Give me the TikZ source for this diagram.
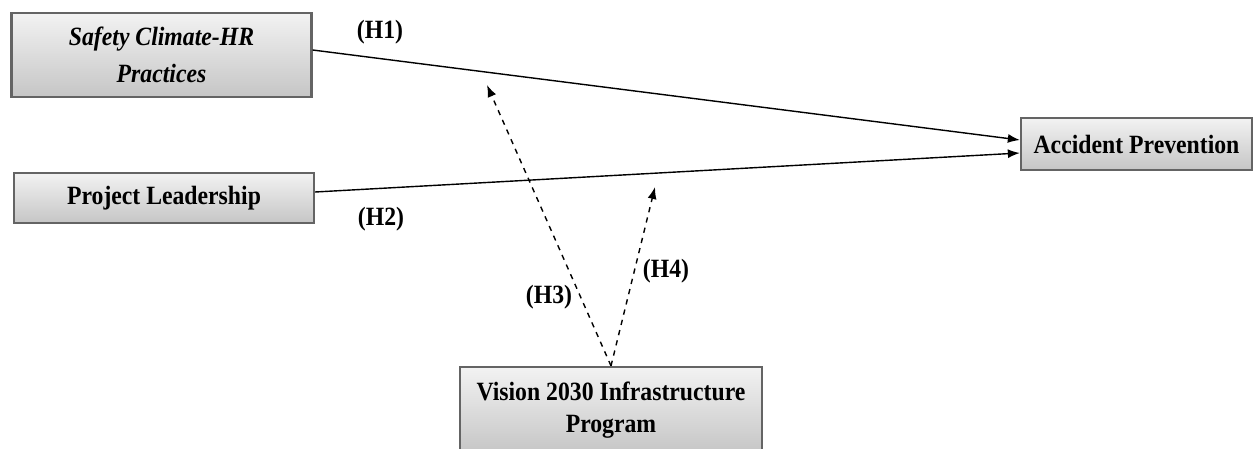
\documentclass[tikz,border=0pt]{standalone}
\usepackage{fontspec}
\setmainfont[FakeStretch=0.9]{Liberation Serif}
\usepackage{tikz}
\usetikzlibrary{arrows.meta, positioning, calc}

\definecolor{boxedge}{RGB}{100, 100, 100}

\begin{document}
\begin{tikzpicture}[>={Latex[length=2.4mm, width=1.8mm]}, every node/.style={font=\fontsize{15}{18}\selectfont\bfseries},
    varbox/.style={draw=boxedge, line width=1.3pt, rectangle, top color=gray!10, bottom color=gray!45, align=center, inner sep=2pt},
    hyp/.style={->, line width=0.8pt},
    modline/.style={->, dashed, line width=0.8pt}]
        \useasboundingbox (0,0) rectangle (25.08,-8.98);
        \node[varbox, minimum width=6cm, minimum height=1.68cm] (safety) at (3.23,-1.10) {\itshape Safety Climate-HR\\[3pt]\itshape Practices};
        \node[varbox, minimum width=6cm, minimum height=1cm] (lead) at (3.28,-3.96) {Project Leadership};
        \node[varbox, minimum width=4.62cm, minimum height=1.04cm] (prev) at (22.73,-2.88) {Accident Prevention};
        \node[varbox, minimum width=6.04cm, minimum height=1.72cm] (vision) at (12.22,-8.2) {Vision 2030 Infrastructure\\Program};
        \coordinate (m1) at (9.74,-1.70);
        \coordinate (m2) at (13.10,-3.74);
        \draw[hyp] ([yshift=0.1cm]safety.east) -- ([yshift=0.08cm]prev.west);
        \draw[hyp] ([yshift=0.12cm]lead.east) -- ([yshift=-0.18cm]prev.west);
        \draw[modline] (vision.north) -- (m1);
        \draw[modline] (vision.north) -- (m2);
        \node (h1) at (7.6,-0.64) {(H1)};
        \node (h2) at (7.62,-4.38) {(H2)};
        \node (h3) at (10.98,-5.94) {(H3)};
        \node (h4) at (13.32,-5.42) {(H4)};
      \end{tikzpicture}
\end{document}
